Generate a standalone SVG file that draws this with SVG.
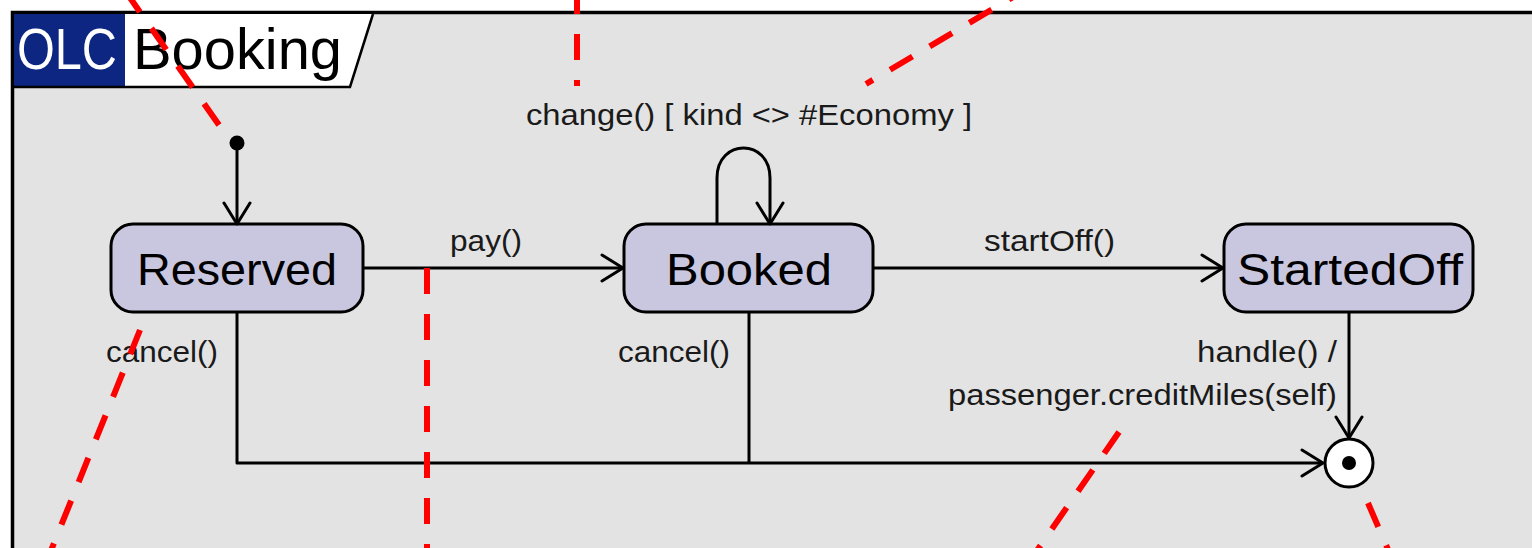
<svg xmlns="http://www.w3.org/2000/svg" width="1532" height="548" viewBox="0 0 1532 548">
<style>
.lbl{font-family:"Liberation Sans",Arial,sans-serif;font-size:29px;fill:#1a1a1a}
.st{fill:#c9c7e0;stroke:#000;stroke-width:3}
.stt{font-family:"Liberation Sans",Arial,sans-serif;font-size:45px;fill:#000;text-anchor:middle}
.cn{fill:none;stroke:#000;stroke-width:3;stroke-linejoin:round}
.red{fill:none;stroke:#ff0000;stroke-width:6;stroke-dasharray:26 20}
</style>
<defs>
<marker id="arrow" viewBox="0 0 26 30" refX="23" refY="15" markerWidth="26" markerHeight="30" markerUnits="userSpaceOnUse" orient="auto">
<path d="M2,2 L23,15 L2,28" fill="none" stroke="#000" stroke-width="3" stroke-linecap="round" stroke-linejoin="round"/>
</marker>
</defs>
<rect x="0" y="0" width="1532" height="548" fill="#ffffff"/>
<g id="frame">
<rect x="12.5" y="12.5" width="1540" height="560" fill="#e3e3e3" stroke="#000" stroke-width="3.5"/>
<rect x="14" y="14" width="111" height="73" fill="#0d2682"/>
<polygon points="125,14 373,14 350,87 125,87" fill="#ffffff"/>
<path d="M14,87 L350,87 L373,14" fill="none" stroke="#000" stroke-width="2.5"/>
<text x="17" y="69" font-family="Liberation Sans, Arial, sans-serif" font-size="58" fill="#ffffff" textLength="100" lengthAdjust="spacingAndGlyphs">OLC</text>
<text x="133" y="69" font-family="Liberation Sans, Arial, sans-serif" font-size="58" fill="#000" textLength="209" lengthAdjust="spacingAndGlyphs">Booking</text>
</g>
<g id="initial">
<circle cx="237" cy="143" r="7.5" fill="#000"/>
</g>
<g id="Reserved">
<rect class="st" x="111" y="224" width="252" height="88" rx="22"/>
<text class="stt" x="237" y="285" textLength="200" lengthAdjust="spacingAndGlyphs">Reserved</text>
</g>
<g id="Booked">
<rect class="st" x="624" y="224" width="249" height="88" rx="22"/>
<text class="stt" x="749" y="285" textLength="166" lengthAdjust="spacingAndGlyphs">Booked</text>
</g>
<g id="StartedOff">
<rect class="st" x="1224" y="224" width="249" height="88" rx="22"/>
<text class="stt" x="1350" y="285" textLength="226" lengthAdjust="spacingAndGlyphs">StartedOff</text>
</g>
<g id="final">
<circle cx="1349" cy="463" r="24" fill="#ffffff" stroke="#000" stroke-width="3"/>
<circle cx="1349" cy="463" r="7" fill="#000"/>
</g>
<g id="connectors">
<path class="cn" d="M237,150 L237,224" marker-end="url(#arrow)"/>
<path class="cn" d="M363,268 L623,268" marker-end="url(#arrow)"/>
<path class="cn" d="M873,268 L1223,268" marker-end="url(#arrow)"/>
<path class="cn" d="M717,225 L717,178 C717,138 770,138 770,178 L770,224" marker-end="url(#arrow)"/>
<path class="cn" d="M1349,312 L1349,438" marker-end="url(#arrow)"/>
<path class="cn" d="M237,312 L237,463 L1323,463" marker-end="url(#arrow)"/>
<path class="cn" d="M749,312 L749,463"/>
<text class="lbl" x="526" y="125" textLength="446" lengthAdjust="spacingAndGlyphs">change() [ kind &lt;&gt; #Economy ]</text>
<text class="lbl" x="450" y="251" textLength="72" lengthAdjust="spacingAndGlyphs">pay()</text>
<text class="lbl" x="984" y="251" textLength="131" lengthAdjust="spacingAndGlyphs">startOff()</text>
<text class="lbl" x="106" y="362" textLength="112" lengthAdjust="spacingAndGlyphs">cancel()</text>
<text class="lbl" x="618" y="362" textLength="112" lengthAdjust="spacingAndGlyphs">cancel()</text>
<text class="lbl" x="1197" y="362" textLength="140" lengthAdjust="spacingAndGlyphs">handle() /</text>
<text class="lbl" x="948" y="405" textLength="389" lengthAdjust="spacingAndGlyphs">passenger.creditMiles(self)</text>
</g>
<g id="annotations">
<path class="red" d="M219,125 L126,-8"/>
<path class="red" d="M577,86 L577,-10" stroke-dashoffset="20"/>
<path class="red" d="M866,84 L1030,-13" stroke-dashoffset="18"/>
<path class="red" d="M427,268 L427,560"/>
<path class="red" d="M140,330 L50,553"/>
<path class="red" d="M1119,432 L1036,552"/>
<path class="red" d="M1368,503 L1395,566"/>
</g>
</svg>
